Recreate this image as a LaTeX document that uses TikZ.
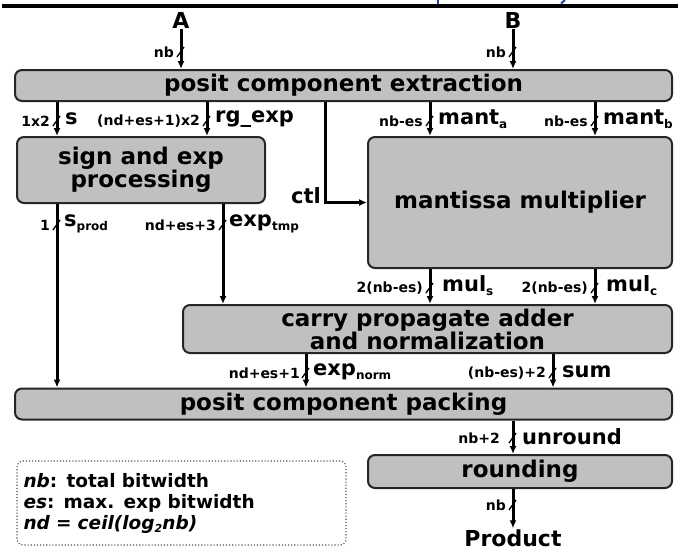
\documentclass[tikz,border=0pt]{standalone}
\usepackage{fontspec}
\setmainfont{DejaVu Sans}
\usetikzlibrary{arrows.meta}
\newcommand{\sbs}[1]{\raisebox{-0.35ex}{\fontsize{12}{12}\selectfont #1}}
\newcommand{\sbl}[1]{\raisebox{-0.3ex}{\fontsize{11}{11}\selectfont #1}}
\definecolor{boxgray}{RGB}{192,192,192}
\definecolor{hdrblue}{RGB}{40,70,150}
\begin{document}
\begin{tikzpicture}[x=1pt,y=-1pt,
  blk/.style={draw=black!85, line width=2pt, fill=boxgray, rounded corners=7pt, inner sep=0pt,
    font=\fontsize{23}{23}\selectfont\bfseries, align=center},
  arr/.style={line width=3pt, -{Latex[length=8pt,width=7pt]}},
  tk/.style={line width=1.3pt},
  big/.style={font=\fontsize{21}{21}\selectfont\bfseries, inner sep=0pt},
  sml/.style={font=\fontsize{14}{14}\selectfont\bfseries, inner sep=0pt},
  io/.style={font=\fontsize{22}{22}\selectfont\bfseries, inner sep=1pt}]
\useasboundingbox (0,0) rectangle (678,552);
% header remnants
\draw[line width=4pt] (2,6) -- (678,6);
\draw[hdrblue, line width=2.5pt] (438,0) -- (438,3.5);
\draw[hdrblue, line width=2pt] (565,0) -- (561,3.5);
% column coordinates
\coordinate (cS) at (57,0);
\coordinate (cR) at (207,0);
\coordinate (cMa) at (430,0);
\coordinate (cMb) at (595,0);
\coordinate (cCtl) at (325,0);
\coordinate (cEt) at (223,0);
\coordinate (cEn) at (306,0);
\coordinate (cSum) at (553,0);
% inputs
\node[io] (A) at (181,20) {A};
\node[io] (B) at (513,20) {B};
% boxes
\node[blk, minimum width=657pt, minimum height=31pt] (ext) at (343.5,85.5) {posit component extraction};
\node[blk, minimum width=248pt, minimum height=66pt] (sign) at (141,170) {sign and exp\\processing};
\node[blk, minimum width=304pt, minimum height=131pt] (mant) at (520,202.5) {mantissa multiplier};
\node[blk, minimum width=489pt, minimum height=48pt] (carry) at (427.5,329) {carry propagate adder\\and normalization};
\node[blk, minimum width=657pt, minimum height=31pt] (pack) at (343.5,404) {posit component packing};
\node[blk, minimum width=304pt, minimum height=33pt] (rnd) at (520,471.5) {rounding};
\node[io] (prod) at (513,538) {Product};
% legend
\node[draw=black!70, dotted, line width=1.1pt, rounded corners=6pt, minimum width=329pt, minimum height=84pt,
  inner sep=0pt, align=left, text width=316pt, font=\fontsize{18.5}{21}\selectfont\bfseries] (leg) at (181.5,503)
  {\textit{nb}: total bitwidth\\ \textit{es}: max. exp bitwidth\\ \textit{nd = ceil(log\sbl{2}nb)}};
% connectors
\draw[arr] (A.south) -- (A.south |- ext.north);
\draw[arr] (B.south) -- (B.south |- ext.north);
\draw[arr] (ext.south -| cS) -- (sign.north -| cS);
\draw[arr] (ext.south -| cR) -- (sign.north -| cR);
\draw[arr] (ext.south -| cMa) -- (mant.north -| cMa);
\draw[arr] (ext.south -| cMb) -- (mant.north -| cMb);
\draw[arr] (ext.south -| cCtl) |- (mant.west);
\draw[arr] (sign.south -| cS) -- (pack.north -| cS);
\draw[arr] (sign.south -| cEt) -- (carry.north -| cEt);
\draw[arr] (mant.south -| cMa) -- (carry.north -| cMa);
\draw[arr] (mant.south -| cMb) -- (carry.north -| cMb);
\draw[arr] (carry.south -| cEn) -- (pack.north -| cEn);
\draw[arr] (carry.south -| cSum) -- (pack.north -| cSum);
\draw[arr] (pack.south -| B) -- (rnd.north -| B);
\draw[arr] (rnd.south -| B) -- (prod.north);
% bus ticks
\foreach \x/\y in {181/52, 513/52, 57/121, 207/121, 430/121, 595/121, 57/225, 223/225,
  430/288, 595/288, 306/373, 553/373, 513/438, 513/505}
  \draw[tk] (\x-4,\y+5) -- (\x+3,\y-5);
% labels
\node[sml, anchor=east] (lnbA) at (174,52) {nb};
\node[sml, anchor=east] (lnbB) at (506,52) {nb};
\node[sml, anchor=east] (l1x2) at (50,121) {1x2};
\node[big, anchor=west] (ls) at (65,119) {s};
\node[sml, anchor=east] (lnd1) at (200,121) {(nd+es+1)x2};
\node[big, anchor=west] (lrg) at (215,119) {rg\_exp};
\node[sml, anchor=east] (lnba) at (423,121) {nb-es};
\node[big, anchor=west] (lma) at (438,119) {mant\sbs{a}};
\node[sml, anchor=east] (lnbb) at (588,121) {nb-es};
\node[big, anchor=west] (lmb) at (603,119) {mant\sbs{b}};
\node[big, anchor=base east] (lctl) at (321,203) {ctl};
\node[sml, anchor=east] (l1) at (50,225) {1};
\node[big, anchor=west] (lsp) at (64,224) {s\sbs{prod}};
\node[sml, anchor=east] (lnd3) at (216,225) {nd+es+3};
\node[big, anchor=west] (let) at (229,224) {exp\sbs{tmp}};
\node[sml, anchor=east] (l2a) at (423,288) {2(nb-es)};
\node[big, anchor=west] (lmuls) at (442,286) {mul\sbs{s}};
\node[sml, anchor=east] (l2b) at (588,288) {2(nb-es)};
\node[big, anchor=west] (lmulc) at (606,286) {mul\sbs{c}};
\node[sml, anchor=east] (lnd2) at (300,373) {nd+es+1};
\node[big, anchor=west] (len) at (313,372) {exp\sbs{norm}};
\node[sml, anchor=east] (lnb2) at (546,373) {(nb-es)+2};
\node[big, anchor=west] (lsum) at (562,372) {sum};
\node[sml, anchor=east] (lnbp) at (500,438) {nb+2};
\node[big, anchor=west] (lunr) at (522,437) {unround};
\node[sml, anchor=east] (lnbo) at (506,505) {nb};
\end{tikzpicture}
\end{document}
